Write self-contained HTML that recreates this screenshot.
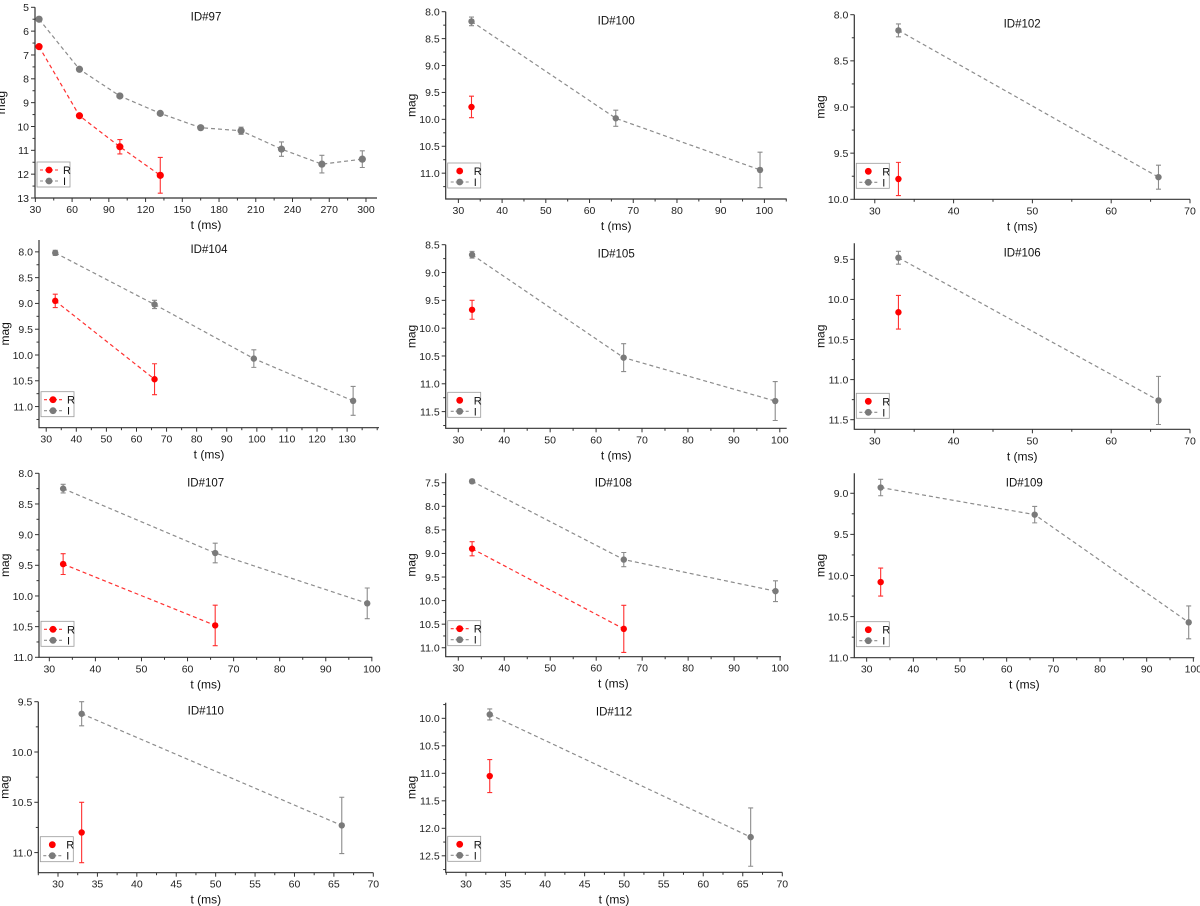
<!DOCTYPE html>
<html><head><meta charset="utf-8"><style>
html,body{margin:0;padding:0;background:#fff;}
svg{display:block;font-family:"Liberation Sans",Arial,sans-serif;}
</style></head><body>
<svg id="chart" width="1200" height="906" viewBox="0 0 1200 906" xmlns="http://www.w3.org/2000/svg"></svg>
<script>
// ---- data ----
const ids=["ID#97","ID#100","ID#102","ID#104","ID#105","ID#106","ID#107","ID#108","ID#109","ID#110","ID#112"];
const rTimes=[[33,66,99,132],[33],[33],[33,66],[33],[33],[33,66],[33,66],[33],[33],[33]];
const rMags=[[6.65,9.55,10.85,12.05],[9.77],[9.78],[8.95,10.47],[9.67],[10.16],[9.48,10.48],[8.9,10.6],[10.08],[10.8],[11.05]];
const rErrs=[[0.05,0.08,0.3,0.75],[0.2],[0.18],[0.13,0.3],[0.17],[0.21],[0.17,0.33],[0.15,0.5],[0.17],[0.3],[0.3]];
const iTimes=[[33,66,99,132,165,198,231,264,297],[33,66,99],[33,66],[33,66,99,132],[33,66,99],[33,66],[33,66,99],[33,66,99],[33,66,99],[33,66],[33,66]];
const iMags=[[5.5,7.6,8.72,9.45,10.05,10.18,10.95,11.58,11.37],[8.18,9.98,10.94],[8.17,9.76],[8.02,9.02,10.07,10.89],[8.68,10.53,11.31],[9.48,11.26],[8.25,9.3,10.12],[7.47,9.13,9.8],[8.93,9.26,10.57],[9.62,10.73],[9.93,12.16]];
const iErrs=[[0.03,0.03,0.05,0.05,0.07,0.15,0.3,0.37,0.35],[0.08,0.15,0.33],[0.07,0.13],[0.05,0.08,0.17,0.28],[0.06,0.25,0.35],[0.08,0.3],[0.07,0.16,0.25],[0.04,0.15,0.22],[0.1,0.1,0.2],[0.12,0.28],[0.1,0.53]];
// axis ranges [xmin,xmax,ymin(top),ymax(bottom)]
const xRanges=[[29.7,309],[27.1,105.1],[27.4,70],[27.6,140.6],[27.26,101.5],[27.4,70],[27.76,100.1],[27.26,100.2],[27.35,100.2],[27.5,70],[27.43,70]];
const yRanges=[[5,13],[8,11.48],[8,10],[7.77,11.41],[8.5,11.8],[9.3,11.62],[8,11],[7.3,11.19],[8.757,11],[9.5,11.2],[9.716,12.8]];
// tick specs [first,last,step,minorStep,decimals]
const xTickSpecs=[[30,300,30,15,0],[30,100,10,5,0],[30,70,10,5,0],[30,130,10,5,0],[30,100,10,5,0],[30,70,10,5,0],[30,100,10,5,0],[30,100,10,5,0],[30,100,10,5,0],[30,70,5,2.5,0],[30,70,5,2.5,0]];
const yTickSpecs=[[5,13,1,0.5,0],[8,11,0.5,0.25,1],[8,10,0.5,0.25,1],[8,11,0.5,0.25,1],[8.5,11.5,0.5,0.25,1],[9.5,11.5,0.5,0.25,1],[8,11,0.5,0.25,1],[7.5,11,0.5,0.25,1],[9,11,0.5,0.25,1],[9.5,11,0.5,0.25,1],[10,12.5,0.5,0.25,1]];
// ---- layout (pixel frames: left,right,top,bottom) ----
const frames=[[35,377,7.3,198],[445.7,786.7,11.7,199],[854.3,1190,14.7,199.3],[39,379,240,427.7],[445.7,786.7,244.7,428.3],[854.3,1190,243.3,429.3],[39,372.3,473.3,657.3],[445.7,781,473.3,656.7],[854.3,1194.3,473.3,657.7],[38.3,373.3,701.7,872.7],[445.7,782.3,702.7,872.3]];

const NS="http://www.w3.org/2000/svg";
const svg=document.getElementById('chart');
function mk(tag,attrs,parent){const e=document.createElementNS(NS,tag);for(const k in attrs)e.setAttribute(k,attrs[k]);(parent||svg).appendChild(e);return e;}
const RED="#ff0000",GRAY="#7a7a7a",AX="#333";

ids.forEach((id,p)=>{
  const [L,R,T,B]=frames[p];
  const [x0,x1]=xRanges[p],[y0,y1]=yRanges[p];
  const sx=v=>L+(v-x0)/(x1-x0)*(R-L);
  const sy=v=>T+(v-y0)/(y1-y0)*(B-T);
  const g=mk('g',{});
  
  
  // axes
  const ax=mk('path',{d:`M${L},${T}V${B}H${R}`,fill:'none',stroke:AX,'stroke-width':1.2},g);
  
  
  // x ticks
  const [xa,xb,xs,xm,xd]=xTickSpecs[p];
  for(let v=xa-Math.floor((xa-x0)/xm)*xm; v<=x1+1e-9; v+=xm){
    const X=sx(v); if(X<L-0.5||X>R+0.5) continue;
    const major=Math.abs(((v-xa)/xs)-Math.round((v-xa)/xs))<1e-6 && v>=xa-1e-9 && v<=xb+1e-9;
    mk('line',{x1:X,y1:B,x2:X,y2:B+(major?4:2.5),stroke:AX,'stroke-width':1},g);
    if(major){const t=mk('text',{x:X,y:B+15,'font-size':10.5,'text-anchor':'middle',fill:'#222'},g);t.textContent=v.toFixed(xd);
      
      }
  }
  // y ticks
  const [ya,yb,ys,ym,yd]=yTickSpecs[p];
  for(let v=ya-Math.floor((ya-y0)/ym)*ym; v<=y1+1e-9; v+=ym){
    const Y=sy(v); if(Y<T-0.5||Y>B+0.5) continue;
    const major=Math.abs(((v-ya)/ys)-Math.round((v-ya)/ys))<1e-6 && v>=ya-1e-9 && v<=yb+1e-9;
    mk('line',{x1:L,y1:Y,x2:L-(major?4:2.5),y2:Y,stroke:AX,'stroke-width':1},g);
    if(major){const t=mk('text',{x:L-6,y:Y+3.8,'font-size':10.5,'text-anchor':'end',fill:'#222'},g);t.textContent=v.toFixed(yd);
      
      }
  }
  // labels
  const xt=mk('text',{x:(L+R)/2,y:B+31,'font-size':12,'text-anchor':'middle',fill:'#111'},g);xt.textContent='t (ms)';
  
  
  const yt=mk('text',{x:0,y:0,'font-size':12,'text-anchor':'middle',fill:'#111',transform:`translate(${L-30},${(T+B)/2}) rotate(-90)`},g);yt.textContent='mag';
  
  
  const ti=mk('text',{x:(L+R)/2,y:T+13,'font-size':11.5,'text-anchor':'middle',fill:'#111'},g);ti.textContent=id;
  
  
  const mr=p===0?3.6:3.2;
  // series
  function series(ts,ms,es,color,lineColor,name){
    const sg=mk('g',{},g);
    
    
    if(ts.length>1){
      const d=ts.map((t,i)=>(i?'L':'M')+sx(t)+','+sy(ms[i])).join('');
      const ln=mk('path',{d,fill:'none',stroke:lineColor,'stroke-width':1.2,'stroke-dasharray':'4,3'},sg);
      
      
    }
    ts.forEach((t,i)=>{
      const X=sx(t),Ya=sy(ms[i]-es[i]),Yb=sy(ms[i]+es[i]);
      const eb=mk('path',{d:`M${X},${Ya}V${Yb}M${X-2.5},${Ya}H${X+2.5}M${X-2.5},${Yb}H${X+2.5}`,fill:'none',stroke:lineColor,'stroke-width':1.1},sg);
      
      
      const c=mk('circle',{cx:X,cy:sy(ms[i]),r:mr,fill:color},sg);
      
      
    });
  }
  series(iTimes[p],iMags[p],iErrs[p],GRAY,'#8c8c8c','series-i');
  series(rTimes[p],rMags[p],rErrs[p],RED,'#ff3030','series-r');
  // legend
  const lg=mk('g',{},g);
  
  
  const lx=L+2,ly=B-36;
  mk('rect',{x:lx,y:ly,width:33,height:25,fill:'#fff',stroke:'#999','stroke-width':0.8},lg);
  if(rTimes[p].length>1) mk('line',{x1:lx+3,y1:ly+8,x2:lx+22,y2:ly+8,stroke:'#ff3030','stroke-width':1.1,'stroke-dasharray':'3,2'},lg);
  mk('circle',{cx:lx+12,cy:ly+8,r:3.4,fill:RED},lg);
  mk('line',{x1:lx+3,y1:ly+19,x2:lx+22,y2:ly+19,stroke:'#8c8c8c','stroke-width':1.1,'stroke-dasharray':'3,2'},lg);
  mk('circle',{cx:lx+12,cy:ly+19,r:3.4,fill:GRAY},lg);
  const t1=mk('text',{x:lx+26,y:ly+12,'font-size':11,fill:'#111'},lg);t1.textContent='R';
  
  
  const t2=mk('text',{x:lx+26,y:ly+23,'font-size':11,fill:'#111'},lg);t2.textContent='I';
  
  
});
</script>
</body></html>
